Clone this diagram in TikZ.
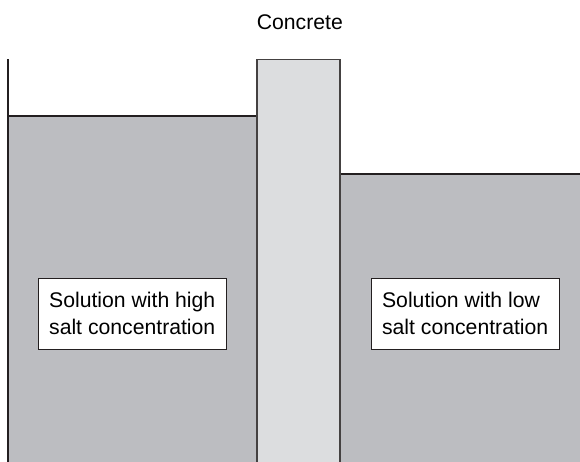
\documentclass[tikz,border=0pt]{standalone}
\usepackage{fontspec}
\setmainfont{Liberation Sans}
\usepackage{tikz}
\usepackage{xcolor}
\definecolor{brine}{RGB}{188,189,193}
\definecolor{concretegray}{RGB}{220,221,223}
\definecolor{inkdark}{RGB}{35,31,32}

\begin{document}
\begin{tikzpicture}[
  tag/.style={draw=inkdark, fill=white, line width=0.6pt, align=left,
    font=\fontsize{10.4}{13.1}\selectfont,
    minimum width=3.24cm, minimum height=1.22cm, inner xsep=5pt}
]
\useasboundingbox (0,0) rectangle (10,7.95);
% solutions on both sides
\fill[brine] (0.14,-0.1) rectangle (4.43,5.95);
\fill[brine] (5.86,-0.1) rectangle (10.1,4.95);
\draw[inkdark, line width=0.6pt] (0.14,5.95) -- (4.43,5.95);
\draw[inkdark, line width=0.6pt] (5.86,4.95) -- (10.1,4.95);
% concrete wall
\filldraw[fill=concretegray, draw=inkdark!85, line width=0.6pt] (4.43,-0.1) rectangle (5.86,6.93);
% container wall
\draw[inkdark, line width=1pt] (0.14,6.93) -- (0.14,-0.1);
\node[font=\fontsize{10.4}{13.1}\selectfont] (concrete) at (5.17,7.57) {Concrete};
\node[tag] (high) at (2.28,2.54) {Solution with high\\salt concentration};
\node[tag] (low) at (8.02,2.54) {Solution with low\\salt concentration};
\end{tikzpicture}
\end{document}
